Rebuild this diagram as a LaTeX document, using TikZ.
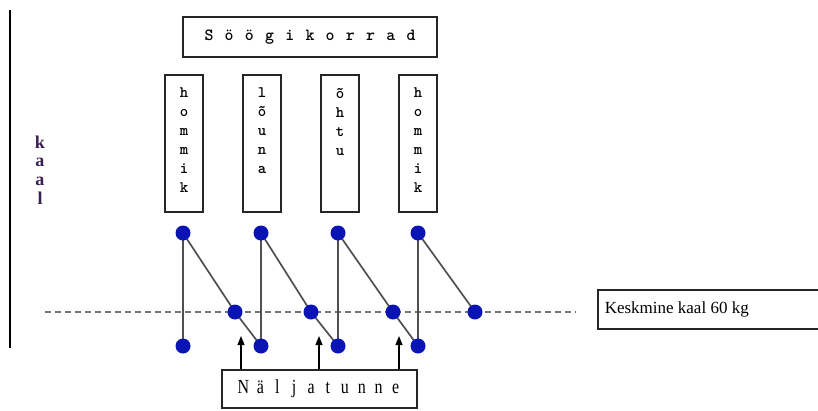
\documentclass[tikz,border=0pt]{standalone}
\usepackage{fontspec}
\setmainfont{Liberation Serif}
\usetikzlibrary{arrows.meta,backgrounds}
\definecolor{dotblue}{HTML}{0A14B4}
\definecolor{kaalc}{HTML}{3A2050}
\definecolor{linegray}{HTML}{505050}
\newcommand{\spl}[2]{\makebox[#1pt]{#2}}
\newcommand{\nl}[1]{\makebox[16.9pt]{\scalebox{0.8}[1]{#1}}}
\tikzset{
  box/.style={draw=black!85, line width=1.5pt, inner sep=0pt, fill=white},
  vbox/.style={box, minimum width=38pt, minimum height=137pt},
  vtext/.style={anchor=north, align=center, inner sep=0pt, font=\ttfamily\bfseries\fontsize{16}{19}\selectfont},
  dot/.style={circle, fill=dotblue, inner sep=0pt, minimum size=15pt},
  link/.style={draw=linegray, line width=1.7pt},
  avg/.style={draw=linegray!80, line width=1.6pt, dash pattern=on 6pt off 4pt},
  hunger/.style={draw=black, line width=1.3pt, -{Triangle[length=9pt,width=7pt]}}
}
\begin{document}
\begin{tikzpicture}[x=1pt,y=-1pt]
\useasboundingbox (0,0) rectangle (818,410);
% axis
\coordinate (ax1) at (10,10);
\coordinate (ax2) at (10,348);
\draw[line width=2.5pt] (ax1) -- (ax2);
\node[font=\bfseries\fontsize{18}{18.5}\selectfont, text=kaalc, align=center, inner sep=0pt] (kaal) at (40,170) {k\\a\\a\\l};
% title
\node[box, minimum width=254pt, minimum height=40pt, font=\ttfamily\bfseries\fontsize{17}{18}\selectfont] (title) at (310,37)
  {\spl{20.2}{S}\spl{20.2}{ö}\spl{20.2}{ö}\spl{20.2}{g}\spl{20.2}{i}\spl{20.2}{k}\spl{20.2}{o}\spl{20.2}{r}\spl{20.2}{r}\spl{20.2}{a}\spl{20.2}{d}};
% meal boxes
\node[vbox] (m1) at (184,143.5) {};
\node[vbox] (m2) at (262,143.5) {};
\node[vbox] (m3) at (340,143.5) {};
\node[vbox] (m4) at (418,143.5) {};
\node[vtext] (t1) at (184,88) {h\\o\\m\\m\\i\\k};
\node[vtext] (t2) at (262,88) {l\\õ\\u\\n\\a};
\node[vtext] (t3) at (340,88) {õ\\h\\t\\u};
\node[vtext] (t4) at (418,88) {h\\o\\m\\m\\i\\k};
% dots
\node[dot] (a1) at (183,233) {};
\node[dot] (a2) at (261,233) {};
\node[dot] (a3) at (338,233) {};
\node[dot] (a4) at (418,233) {};
\node[dot] (b1) at (235,312) {};
\node[dot] (b2) at (311,312) {};
\node[dot] (b3) at (393,312) {};
\node[dot] (b4) at (475,312) {};
\node[dot] (c1) at (183,346) {};
\node[dot] (c2) at (261,346) {};
\node[dot] (c3) at (338,346) {};
\node[dot] (c4) at (418,346) {};
% average line and links
\coordinate (d1) at (45,312);
\coordinate (d2) at (576,312);
\begin{scope}[on background layer]
\draw[avg] (d1) -- (d2);
\draw[link] (a1.center) -- (c1.center);
\draw[link] (a2.center) -- (c2.center);
\draw[link] (a3.center) -- (c3.center);
\draw[link] (a4.center) -- (c4.center);
\draw[link] (a1.center) -- (b1.center) -- (c2.center);
\draw[link] (a2.center) -- (b2.center) -- (c3.center);
\draw[link] (a3.center) -- (b3.center) -- (c4.center);
\draw[link] (a4.center) -- (b4.center);
\end{scope}
% average label
\node[box, anchor=west, minimum width=240pt, minimum height=39pt] (avgbox) at (597,309.5)
  {\makebox[226pt][l]{\fontsize{17}{18}\selectfont Keskmine kaal 60 kg}};
% hunger
\node[box, minimum width=195pt, minimum height=38pt, font=\fontsize{20}{20}\selectfont] (hunger) at (319.5,389)
  {\nl{N}\nl{ä}\nl{l}\nl{j}\nl{a}\nl{t}\nl{u}\nl{n}\nl{n}\nl{e}};
\coordinate (h1) at (241,336);
\coordinate (h2) at (319,336);
\coordinate (h3) at (399,336);
\draw[hunger] (hunger.north -| h1) -- (h1);
\draw[hunger] (hunger.north -| h2) -- (h2);
\draw[hunger] (hunger.north -| h3) -- (h3);
\end{tikzpicture}
\end{document}
